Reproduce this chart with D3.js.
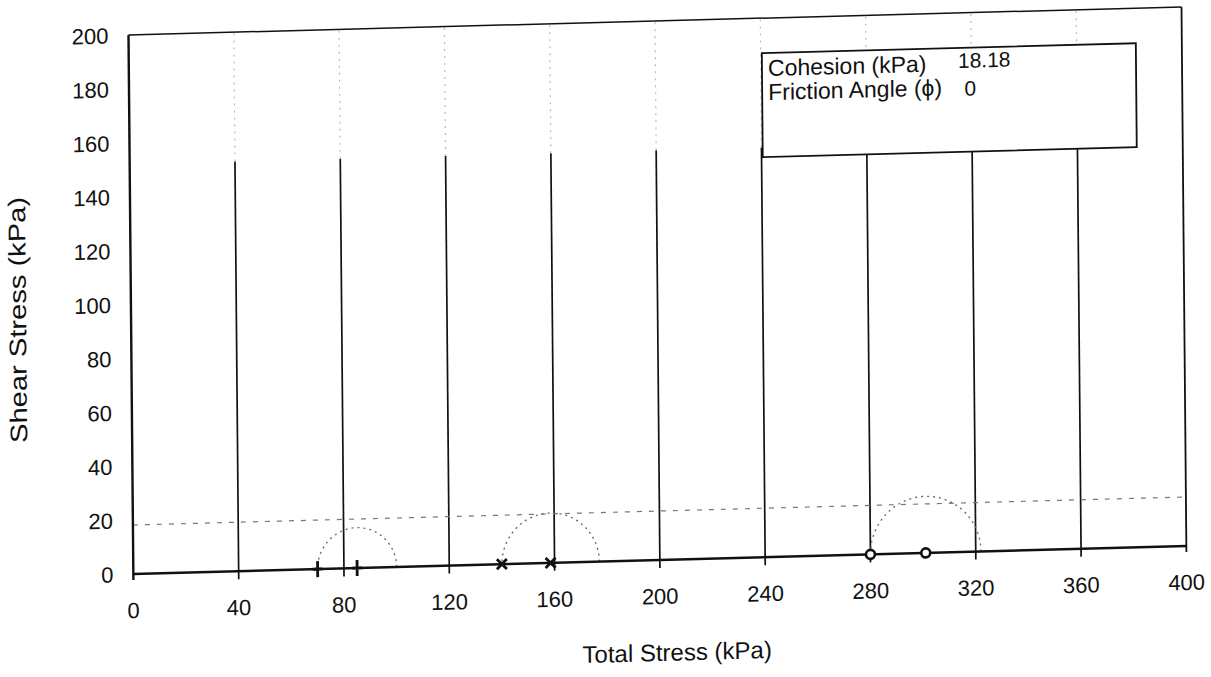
<!DOCTYPE html>
<html>
<head>
<meta charset="utf-8">
<script src="https://cdn.jsdelivr.net/npm/d3@7"></script>
<style>
  html, body { margin: 0; padding: 0; background: #fff; }
  svg { display: block; }
  text { font-family: "Liberation Sans", Arial, sans-serif; fill: #111; }
</style>
</head>
<body>
<svg id="chart" width="1211" height="677"></svg>
<script>
// ---- data ----
const xTicks = [0, 40, 80, 120, 160, 200, 240, 280, 320, 360, 400];
const yTicks = [0, 20, 40, 60, 80, 100, 120, 140, 160, 180, 200];
const gridX = [40, 80, 120, 160, 200, 240, 280, 320, 360];
const sigma3 = [70, 140, 280];          // minor principal stress (kPa)
const sigma1 = [100, 177, 322];         // major principal stress (kPa)
const markerTypes = ["plus", "cross", "circle"];
const cohesion = 18.18;
const frictionAngle = 0;
const legendLabels = ["Cohesion (kPa)", "Friction Angle (\u03D5)"];
const legendValues = ["18.18", "0"];
const xTitle = "Total Stress (kPa)";
const yTitle = "Shear Stress (kPa)";

// ---- layout ----
const W = 1053, H = 539;
const svg = d3.select("#chart");
// the scanned page is slightly skewed; reproduce with an affine transform
const g = svg.append("g")
  .attr("transform", "matrix(1,-0.0266,0.009,1,128.5,35)");

const x = d3.scaleLinear().domain([0, 400]).range([0, W]);
const y = d3.scaleLinear().domain([0, 200]).range([H, 0]);

// vertical gridlines (solid lower part, faded upper part as on the scan)
const gridSolidTop = 152;
g.selectAll("line.gs").data(gridX).join("line")
  .attr("x1", d => x(d)).attr("x2", d => x(d))
  .attr("y1", y(0) + 8).attr("y2", y(gridSolidTop))
  .attr("stroke", "#111").attr("stroke-width", 1.7);
g.selectAll("line.gf").data(gridX).join("line")
  .attr("x1", d => x(d)).attr("x2", d => x(d))
  .attr("y1", y(gridSolidTop)).attr("y2", y(200))
  .attr("stroke", "#bbb").attr("stroke-width", 1.2)
  .attr("stroke-dasharray", "2,5");

// plot border (top and right)
g.append("line").attr("x1", 0).attr("x2", W).attr("y1", 0).attr("y2", 0)
  .attr("stroke", "#111").attr("stroke-width", 1.5);
g.append("line").attr("x1", W).attr("x2", W).attr("y1", 0).attr("y2", H + 6)
  .attr("stroke", "#111").attr("stroke-width", 1.8);

// cohesion (failure envelope) line, phi = 0 -> horizontal
const env = d3.line().x(d => x(d)).y(d => y(cohesion + d * Math.tan(frictionAngle * Math.PI / 180)));
g.append("path").attr("d", env([0, 400]))
  .attr("fill", "none").attr("stroke", "#777").attr("stroke-width", 1.2)
  .attr("stroke-dasharray", "5,7");

// Mohr circles
const circles = sigma3.map((s3, i) => ({ c: (s3 + sigma1[i]) / 2, r: (sigma1[i] - s3) / 2, s3, type: markerTypes[i] }));
const arcLine = d3.line().x(p => x(p[0])).y(p => y(p[1]));
const angles = d3.range(0, 181, 3).map(a => a * Math.PI / 180);
g.selectAll("path.mohr").data(circles).join("path")
  .attr("d", d => arcLine(angles.map(t => [d.c + d.r * Math.cos(t), d.r * Math.sin(t)])))
  .attr("fill", "none").attr("stroke", "#666").attr("stroke-width", 1.3)
  .attr("stroke-dasharray", "2,4");

// axes lines
g.append("line").attr("x1", 0).attr("x2", W).attr("y1", H).attr("y2", H)
  .attr("stroke", "#111").attr("stroke-width", 2.6);
g.append("line").attr("x1", 0).attr("x2", 0).attr("y1", 0).attr("y2", H + 6)
  .attr("stroke", "#111").attr("stroke-width", 2.4);

// markers at sigma3 and circle centres
const markerData = [];
circles.forEach(d => { markerData.push({ v: d.s3, type: d.type }); markerData.push({ v: d.c, type: d.type }); });
const mk = g.selectAll("g.mk").data(markerData).join("g")
  .attr("transform", d => `translate(${x(d.v)},${y(0)})`);
mk.filter(d => d.type === "plus").append("path")
  .attr("d", "M0,-8V8M-5,0H5").attr("stroke", "#111").attr("stroke-width", 2.8).attr("fill", "none");
mk.filter(d => d.type === "cross").append("path")
  .attr("d", "M-5,-5L5,5M-5,5L5,-5").attr("stroke", "#111").attr("stroke-width", 2.8).attr("fill", "none");
mk.filter(d => d.type === "circle").append("circle")
  .attr("r", 4.5).attr("fill", "#fff").attr("stroke", "#111").attr("stroke-width", 2.6);

// tick labels
g.selectAll("text.xt").data(xTicks).join("text")
  .attr("x", d => x(d)).attr("y", H + 44)
  .attr("text-anchor", "middle").attr("font-size", 22).text(d => d);
g.selectAll("text.yt").data(yTicks).join("text")
  .attr("x", -20).attr("y", d => y(d) + 8)
  .attr("text-anchor", "end").attr("font-size", 22).text(d => d);

// axis titles
g.append("text").attr("x", 543).attr("y", 640)
  .attr("text-anchor", "middle").attr("font-size", 24).text(xTitle);
g.append("text").attr("transform", "translate(-105,282) rotate(-90)")
  .attr("text-anchor", "middle").attr("font-size", 24)
  .attr("textLength", 246).attr("lengthAdjust", "spacingAndGlyphs").text(yTitle);

// legend box
const lg = g.append("g");
lg.append("rect").attr("x", 633).attr("y", 35).attr("width", 374).attr("height", 104)
  .attr("fill", "#fff").attr("stroke", "#111").attr("stroke-width", 1.8);
lg.selectAll("text.ll").data(legendLabels).join("text")
  .attr("x", 639).attr("y", (d, i) => 58 + i * 24)
  .attr("font-size", 23).text(d => d);
lg.selectAll("text.lv").data(legendValues).join("text")
  .attr("x", (d, i) => i === 0 ? 829 : 841).attr("y", (d, i) => i === 0 ? 55 : 83)
  .attr("text-anchor", (d, i) => i === 0 ? "start" : "middle")
  .attr("font-size", 21).text(d => d);
</script>
</body>
</html>
